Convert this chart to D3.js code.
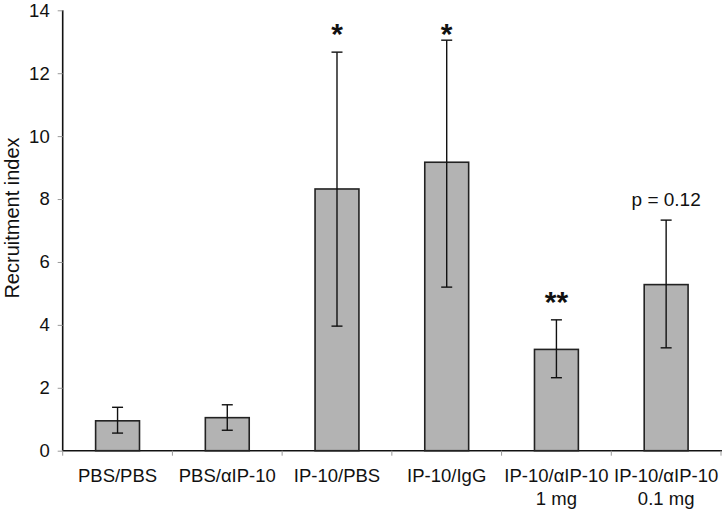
<!DOCTYPE html>
<html><head><meta charset="utf-8">
<script src="https://cdn.jsdelivr.net/npm/d3@7"></script>
<style>body{margin:0;background:#fff}svg{display:block;font-family:"Liberation Sans",Arial,sans-serif}</style>
</head><body>
<svg id="c" width="722" height="511"></svg>
<script>
const categories = [["PBS/PBS"],["PBS/\u03b1IP-10"],["IP-10/PBS"],["IP-10/IgG"],["IP-10/\u03b1IP-10","1 mg"],["IP-10/\u03b1IP-10","0.1 mg"]];
const means = [0.95, 1.05, 8.32, 9.17, 3.22, 5.28];
const errHigh = [1.38, 1.46, 12.67, 13.05, 4.16, 7.33];
const errLow = [0.56, 0.65, 3.96, 5.2, 2.32, 3.27];
const annotations = ["", "", "*", "*", "**", "p = 0.12"];
const yTicks = [0, 2, 4, 6, 8, 10, 12, 14];

const svg = d3.select("#c");
const m = {left: 62.7, right: 1, top: 10.3, bottom: 60.3};
const W = 722, H = 511;
const x = d3.scaleBand().domain(d3.range(categories.length)).range([m.left, W - m.right]).paddingInner(0).paddingOuter(0);
const y = d3.scaleLinear().domain([0, 14]).range([H - m.bottom, m.top]);
const bw = x.bandwidth() * 0.4;
const cx = i => x(i) + x.bandwidth() / 2;

// y axis
const ya = svg.append("g").attr("transform", `translate(${m.left},0)`)
  .call(d3.axisLeft(y).tickValues(yTicks).tickSize(5).tickPadding(8).tickFormat(d3.format("d")));
ya.select(".domain").attr("stroke", "#111").attr("stroke-width", 1.6).attr("d", `M0,${y(14)}V${y(0)}`);
ya.selectAll(".tick line").attr("stroke", "#999");
ya.selectAll(".tick text").attr("font-size", 18.5).attr("fill", "#111").attr("font-family", "Liberation Sans, Arial, sans-serif");

// x axis
const xa = svg.append("g").attr("transform", `translate(0,${y(0)})`);
xa.append("line").attr("x1", m.left).attr("x2", W).attr("y1", 0).attr("y2", 0).attr("stroke", "#111").attr("stroke-width", 1.6);
xa.selectAll("line.tk").data(d3.range(categories.length + 1)).join("line").attr("class", "tk")
  .attr("x1", i => m.left + i * x.bandwidth()).attr("x2", i => m.left + i * x.bandwidth())
  .attr("y1", 0).attr("y2", 5).attr("stroke", "#999");
categories.forEach((lines, i) => {
  const t = xa.append("text").attr("text-anchor", "middle").attr("font-size", 18.5).attr("fill", "#111");
  lines.forEach((s, k) => t.append("tspan").attr("x", cx(i)).attr("y", 31 + k * 23.5).text(s));
});

// bars
svg.append("g").selectAll("rect").data(means).join("rect")
  .attr("x", (d, i) => cx(i) - bw / 2).attr("width", bw)
  .attr("y", d => y(d)).attr("height", d => y(0) - y(d))
  .attr("fill", "#b3b3b3").attr("stroke", "#222").attr("stroke-width", 1.6);

// error bars
const eg = svg.append("g").attr("stroke", "#111").attr("stroke-width", 1.4);
means.forEach((d, i) => {
  eg.append("line").attr("x1", cx(i)).attr("x2", cx(i)).attr("y1", y(errHigh[i])).attr("y2", y(errLow[i]));
  [errHigh[i], errLow[i]].forEach(v => eg.append("line").attr("x1", cx(i) - 5.5).attr("x2", cx(i) + 5.5).attr("y1", y(v)).attr("y2", y(v)));
});

// annotations
annotations.forEach((a, i) => {
  if (!a) return;
  const star = a.startsWith("*");
  if (star) {
    const c = Math.max(y(errHigh[i]) - 25, 27);
    svg.append("text").attr("x", cx(i)).attr("y", c + 0.56 * 30)
      .attr("text-anchor", "middle").attr("font-size", 30).attr("font-weight", "bold")
      .attr("fill", "#111").text(a);
  } else {
    svg.append("text").attr("x", cx(i)).attr("y", y(errHigh[i]) - 14)
      .attr("text-anchor", "middle").attr("font-size", 19).attr("fill", "#111").text(a);
  }
});

// y title
svg.append("text").attr("transform", `translate(19,218) rotate(-90)`).attr("text-anchor", "middle")
  .attr("font-size", 20).attr("fill", "#111").text("Recruitment index");
</script>
</body></html>
